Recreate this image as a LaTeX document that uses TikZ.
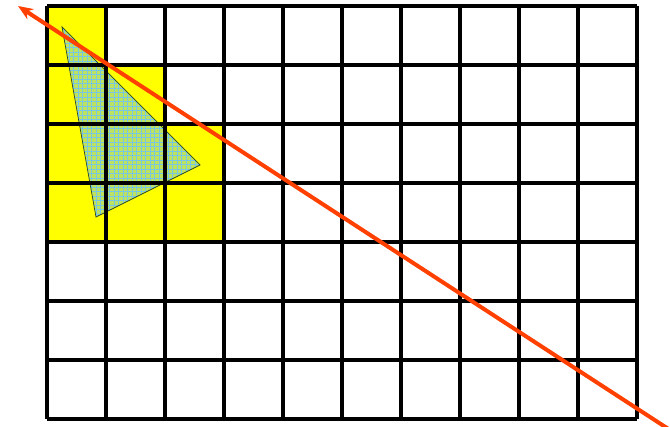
\documentclass[tikz,border=0pt]{standalone}
\usetikzlibrary{arrows.meta}
\definecolor{arrowred}{RGB}{255,64,0}
\definecolor{cellyellow}{RGB}{255,255,0}
\definecolor{trifill}{RGB}{188,226,96}
\definecolor{trigrid}{RGB}{120,200,225}
\definecolor{triedge}{RGB}{40,70,40}
\tikzset{
  gridline/.style={line width=3.4pt, black},
  hatchline/.style={trigrid, line width=0.7pt},
  redarrow/.style={arrowred, line width=4pt, {Stealth[length=15pt,width=12pt]}-}
}
\begin{document}
\begin{tikzpicture}[x=1pt,y=-1pt]
\useasboundingbox (0,0) rectangle (670,427);
% yellow cells
\fill[cellyellow] (47,6) rectangle (106,65);
\fill[cellyellow] (47,65) rectangle (165,124);
\fill[cellyellow] (47,124) rectangle (224,242);
% triangle
\fill[trifill] (62,27) coordinate (A) -- (200,165) coordinate (B) -- (96,217) coordinate (C) -- cycle;
\begin{scope}
  \clip (A) -- (B) -- (C) -- cycle;
  \foreach \k in {0,...,32} {
    \draw[hatchline] (60+4.5*\k,25) -- (60+4.5*\k,220);
  }
  \foreach \k in {0,...,44} {
    \draw[hatchline] (60,25+4.5*\k) -- (205,25+4.5*\k);
  }
\end{scope}
\draw[triedge, line width=0.7pt] (A) -- (B) -- (C) -- cycle;
% grid
\foreach \i in {0,...,10} {
  \draw[gridline] (47+59*\i,6) -- (47+59*\i,419);
}
\foreach \j in {0,...,7} {
  \draw[gridline] (47,6+59*\j) -- (637,6+59*\j);
}
% red arrow
\coordinate (tip) at (18,6);
\coordinate (tail) at (670,430);
\draw[redarrow] (tip) -- (tail);
\end{tikzpicture}
\end{document}
